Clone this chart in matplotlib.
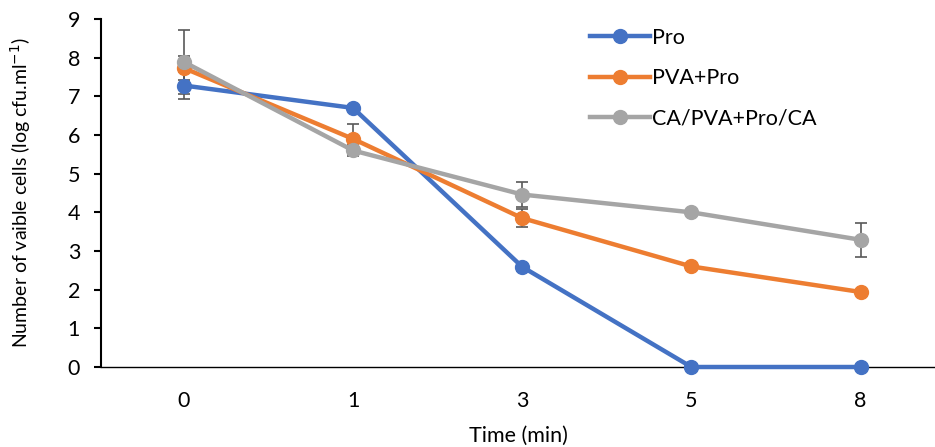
import matplotlib
matplotlib.use("Agg")
import matplotlib.pyplot as plt
from matplotlib.lines import Line2D
import numpy as np

plt.rcParams['font.family'] = ['Lato', 'DejaVu Sans']

categories = ["0", "1", "3", "5", "8"]
series_names = ["Pro", "PVA+Pro", "CA/PVA+Pro/CA"]
pro = [7.28, 6.70, 2.59, 0.0, 0.0]
pro_err = [0.34, 0.0, 0.10, 0.0, 0.0]
pva_pro = [7.73, 5.90, 3.85, 2.60, 1.94]
pva_pro_err = [0.32, 0.38, 0.23, 0.08, 0.0]
ca_pva = [7.89, 5.60, 4.46, 4.00, 3.29]
ca_pva_err = [0.82, 0.15, 0.32, 0.0, 0.44]
colors = ["#4472C4", "#ED7D31", "#A5A5A5"]

FS = 15.5
fig = plt.figure(figsize=(9.35, 4.47), dpi=100)
ax = fig.add_axes([101/935, (447-367)/447, 1 - 101/935, (367-19)/447])

x = np.arange(len(categories))
handles = []
for vals, errs, c, name in zip([pro, pva_pro, ca_pva], [pro_err, pva_pro_err, ca_pva_err], colors, series_names):
    ax.errorbar(x, vals, yerr=errs, color=c, ecolor="#595959", elinewidth=1.2,
                capsize=4, capthick=1.2, lw=3.2, marker='o', markersize=10,
                clip_on=False, zorder=3)
    handles.append(Line2D([], [], color=c, lw=3.2, marker='o', markersize=10, label=name))

ax.set_xlim(-0.49, 4.44)
ax.set_ylim(0, 9)
ax.set_yticks(range(0, 10))
ax.set_xticks(x)
ax.set_xticklabels(categories)
ax.tick_params(axis='y', direction='out', length=5, width=1.5, labelsize=FS, pad=10)
ax.tick_params(axis='x', length=0, labelsize=FS, pad=17)
for s in ['top', 'right']:
    ax.spines[s].set_visible(False)
ax.spines['left'].set_linewidth(1.5)
ax.spines['bottom'].set_linewidth(1.0)
ax.spines['bottom'].set_color('#000000')

ax.set_ylabel("Number of vaible cells (log cfu.ml$^{-1}$)", fontsize=14)
ax.yaxis.set_label_coords(-68/834, 0.5)
ax.set_xlabel("Time (min)", fontsize=FS, labelpad=11)

leg = ax.legend(handles=handles, loc='upper left', bbox_to_anchor=(470/834, 1.03),
                frameon=False, fontsize=FS, handlelength=2.75, labelspacing=0.95,
                handletextpad=0.12)

fig.savefig("out.png", dpi=100)
